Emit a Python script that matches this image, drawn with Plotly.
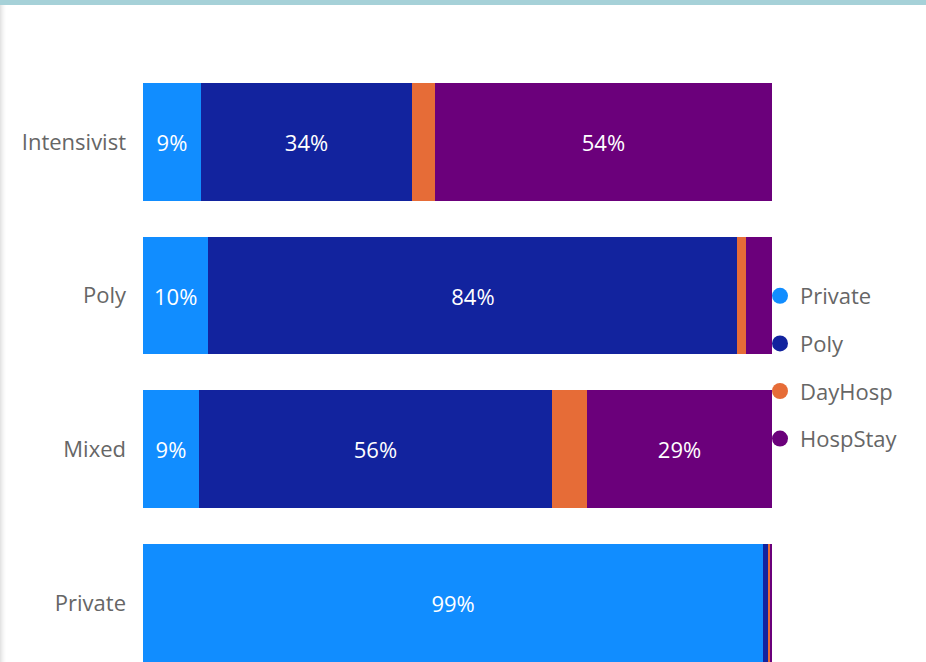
import plotly.graph_objects as go

categories = ["Intensivist", "Poly", "Mixed", "Private"]
series_names = ["Private", "Poly", "DayHosp", "HospStay"]
private_vals = [9.2, 10.4, 8.9, 98.6]
poly_vals = [33.6, 84.1, 56.1, 0.8]
dayhosp_vals = [3.6, 1.3, 5.6, 0.4]
hospstay_vals = [53.6, 4.2, 29.4, 0.2]
colors = ["#118DFF", "#12239E", "#E66C37", "#6B007B"]

W, H = 926, 662
L, R, T, B = 143, 154, 65, 0
plot_w = W - L - R
plot_h = H - T - B

ypos = [3, 2, 1, 0]

fig = go.Figure()
for name, vals, col in zip(series_names, [private_vals, poly_vals, dayhosp_vals, hospstay_vals], colors):
    txt = [f"{v:.0f}%" if v >= 8 else "" for v in vals]
    fig.add_trace(go.Bar(
        y=ypos, x=vals, orientation="h", name=name,
        marker=dict(color=col, line=dict(width=0)),
        width=0.766, text=txt, textposition="inside", insidetextanchor="middle",
        textangle=0, constraintext="none",
        textfont=dict(color="white", size=22, family="Open Sans"),
        hoverinfo="skip", showlegend=False,
    ))
for gi, (name, col) in enumerate(zip(series_names, colors)):
    fig.add_trace(go.Scatter(
        x=[None], y=[None], mode="markers", name=name,
        marker=dict(symbol="circle", size=20, color=col),
        legendgroup=f"g{gi}", showlegend=True,
    ))

fig.update_layout(
    width=W, height=H,
    margin=dict(l=L, r=R, t=T, b=B, pad=0),
    barmode="stack",
    plot_bgcolor="white", paper_bgcolor="white",
    font=dict(family="Open Sans", color="#666666", size=22),
    xaxis=dict(range=[0, 100], visible=False, fixedrange=True),
    yaxis=dict(range=[-0.384, 3.5], tickvals=ypos, ticktext=categories,
               showgrid=False, zeroline=False, showline=False, ticks="",
               ticklen=0, ticklabelstandoff=16,
               tickfont=dict(size=22, color="#666666"), fixedrange=True),
    legend=dict(x=(760 - L) / plot_w, xanchor="left", y=(H - 275) / plot_h, yanchor="top",
                font=dict(size=22, color="#666666"), traceorder="grouped",
                tracegroupgap=16, itemwidth=30, bgcolor="rgba(0,0,0,0)",
                borderwidth=0),
    shapes=[
        dict(type="rect", xref="paper", yref="paper", x0=-L / plot_w, x1=(W - L) / plot_w,
             y0=1 + (T - 5) / plot_h, y1=1 + T / plot_h, fillcolor="#A6D1D8", line=dict(width=0), layer="above"),
    ] + [
        dict(type="rect", xref="paper", yref="paper", x0=(-L + i) / plot_w, x1=(-L + i + 1) / plot_w,
             y0=0, y1=1 + (T - 5) / plot_h, fillcolor=c, line=dict(width=0), layer="below")
        for i, c in enumerate(["#E4E4E4", "#EBEBEB", "#F1F1F1", "#F6F6F6", "#FAFAFA", "#FDFDFD"])
    ],
)

fig.write_html("out.html", config={"displayModeBar": False},
               post_script="document.body.style.margin='0';document.body.style.overflow='hidden';")
